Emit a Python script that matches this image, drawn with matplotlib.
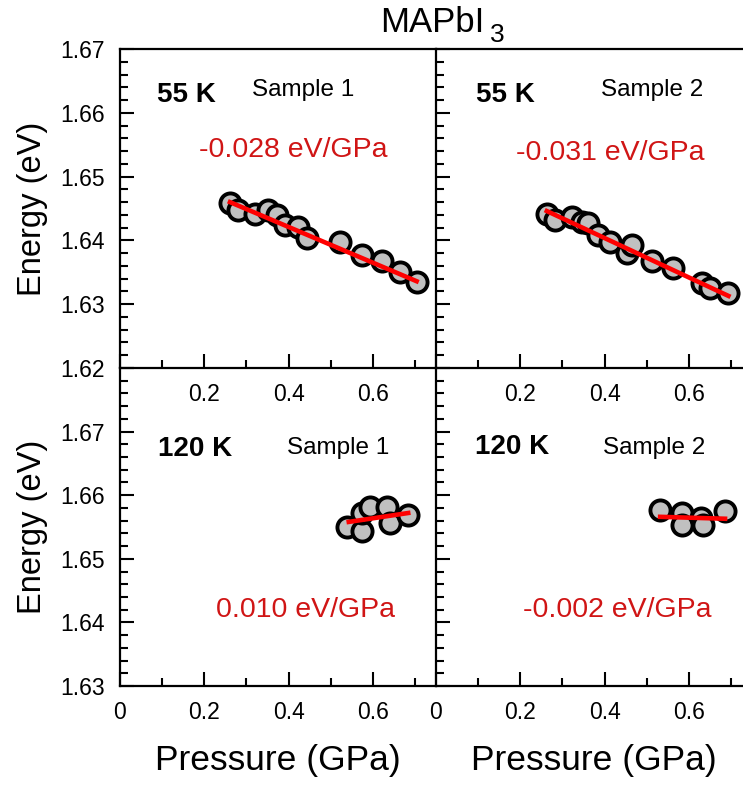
import matplotlib.pyplot as plt
from matplotlib.ticker import MultipleLocator

plt.rcParams['font.family'] = ['Liberation Sans', 'DejaVu Sans']

# 55 K, sample 1
p55_s1 = [0.261, 0.281, 0.320, 0.352, 0.372, 0.392, 0.423, 0.443, 0.522, 0.574, 0.621, 0.665, 0.704]
e55_s1 = [1.6458, 1.6448, 1.6442, 1.6448, 1.6440, 1.6424, 1.6421, 1.6403, 1.6398, 1.6377, 1.6367, 1.6351, 1.6335]
fit55_s1_x = [0.261, 0.704]
fit55_s1_y = [1.6460, 1.6336]

# 55 K, sample 2
p55_s2 = [0.263, 0.282, 0.322, 0.346, 0.361, 0.385, 0.413, 0.453, 0.465, 0.512, 0.563, 0.631, 0.650, 0.694]
e55_s2 = [1.6442, 1.6432, 1.6437, 1.6429, 1.6427, 1.6408, 1.6398, 1.6380, 1.6393, 1.6367, 1.6356, 1.6333, 1.6325, 1.6317]
fit55_s2_x = [0.263, 0.694]
fit55_s2_y = [1.6446, 1.6313]

# 120 K, sample 1
p120_s1 = [0.538, 0.574, 0.574, 0.593, 0.633, 0.641, 0.684]
e120_s1 = [1.6550, 1.6543, 1.6572, 1.6582, 1.6582, 1.6556, 1.6569]
fit120_s1_x = [0.543, 0.684]
fit120_s1_y = [1.6558, 1.6572]

# 120 K, sample 2
p120_s2 = [0.532, 0.583, 0.583, 0.630, 0.633, 0.686]
e120_s2 = [1.6576, 1.6572, 1.6553, 1.6564, 1.6553, 1.6575]
fit120_s2_x = [0.532, 0.686]
fit120_s2_y = [1.6566, 1.6563]

panels = [
    ('55 K', 'Sample 1', '-0.028 eV/GPa', p55_s1, e55_s1, fit55_s1_x, fit55_s1_y),
    ('55 K', 'Sample 2', '-0.031 eV/GPa', p55_s2, e55_s2, fit55_s2_x, fit55_s2_y),
    ('120 K', 'Sample 1', '0.010 eV/GPa', p120_s1, e120_s1, fit120_s1_x, fit120_s1_y),
    ('120 K', 'Sample 2', '-0.002 eV/GPa', p120_s2, e120_s2, fit120_s2_x, fit120_s2_y),
]

W, H = 743, 786
fig = plt.figure(figsize=(W / 100, H / 100), dpi=100)


def box(x0, y0, x1, y1):
    return [x0 / W, 1 - y1 / H, (x1 - x0) / W, (y1 - y0) / H]


def ftext(px, py, s, **kw):
    fig.text(px / W, 1 - py / H, s, ha='center', va='center', **kw)


boxes = [box(120, 49, 436, 368), box(436, 49, 752, 368),
         box(120, 368, 436, 686), box(436, 368, 752, 686)]
# text centres (pixels): temperature, sample, slope
text_pos = [((186, 95), (303, 90), (293, 150)),
            ((505, 95), (652, 90), (610, 153)),
            ((195, 449), (338, 448), (306, 610)),
            ((512, 447), (654, 448), (617, 610))]

red = '#d01515'
for i, (temp, sample, slope, px, en, fx, fy) in enumerate(panels):
    ax = fig.add_axes(boxes[i])
    ax.set_facecolor('none')
    top = i < 2
    left = i % 2 == 0
    ax.plot(px, en, 'o', ms=14.5, mfc='#c0c0c0', mec='black', mew=2.8, zorder=2)
    ax.plot(fx, fy, color='red', lw=3.3, zorder=3)
    ax.set_xlim(0, 0.75)
    if top:
        ax.set_ylim(1.62, 1.67)
        ax.set_yticks([1.62, 1.63, 1.64, 1.65, 1.66, 1.67])
        ax.set_yticklabels(['1.62', '1.63', '1.64', '1.65', '1.66', '1.67'])
        ax.set_xticks([0, 0.2, 0.4, 0.6])
        ax.set_xticklabels(['', '0.2', '0.4', '0.6'])
    else:
        ax.set_ylim(1.63, 1.68)
        ax.set_yticks([1.63, 1.64, 1.65, 1.66, 1.67, 1.68])
        ax.set_yticklabels(['1.63', '1.64', '1.65', '1.66', '1.67', ''])
        ax.set_xticks([0, 0.2, 0.4, 0.6])
        ax.set_xticklabels(['0', '0.2', '0.4', '0.6'])
        ax.set_xlabel('Pressure (GPa)', fontsize=25.5, labelpad=14)
    ax.xaxis.set_minor_locator(MultipleLocator(0.1))
    ax.yaxis.set_minor_locator(MultipleLocator(0.002))
    ax.spines['right'].set_visible(False)
    ax.spines['top'].set_visible(top)
    for s in ax.spines.values():
        s.set_linewidth(1.6)
    ax.tick_params(which='both', direction='in', top=False, right=False,
                   labelleft=left, labelsize=16.5, pad=11, width=1.5)
    ax.tick_params(which='major', length=10)
    ax.tick_params(which='minor', length=5.5)
    if left:
        ax.set_ylabel('Energy (eV)', fontsize=23.5, labelpad=9)
    (tx, ty), (sx, sy), (rx, ry) = text_pos[i]
    ftext(tx, ty, temp, fontsize=20, fontweight='bold')
    ftext(sx, sy, sample, fontsize=17.5)
    ftext(rx, ry, slope, fontsize=20.5, color=red)

fig.text(380 / W, 1 - 32 / H, 'MAPbI', fontsize=25, ha='left', va='baseline')
fig.text(490 / W, 1 - 42 / H, '3', fontsize=19, ha='left', va='baseline')

fig.savefig('out.png', dpi=100)
